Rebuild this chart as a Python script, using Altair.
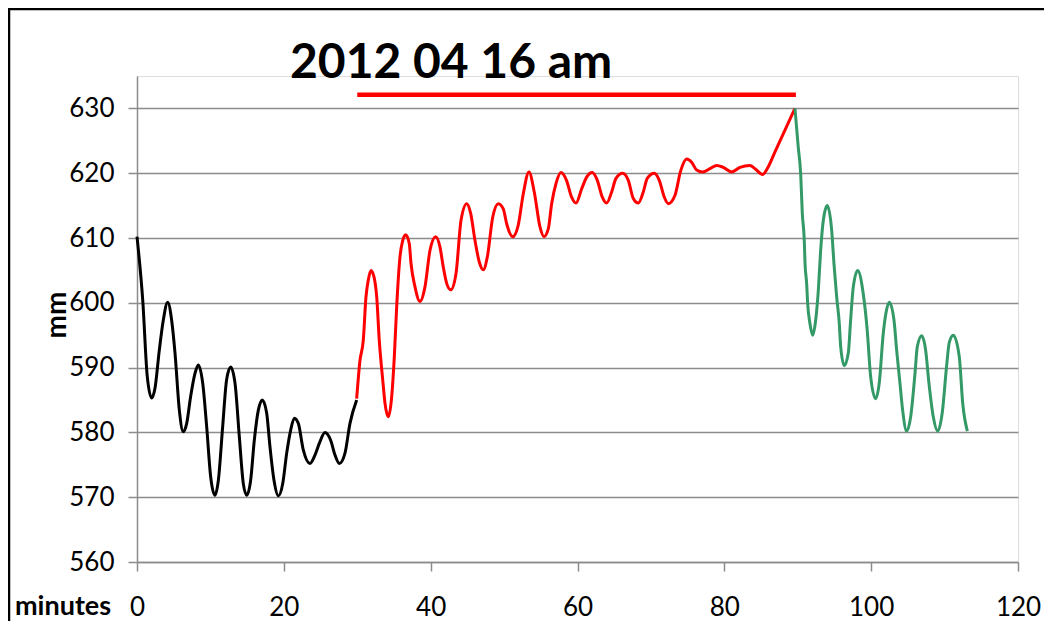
import altair as alt
import pandas as pd

# ---- data ----
black_min = [0, 0.78, 1.4, 2.0, 2.45, 3.04, 3.58, 4.18, 4.72, 5.18, 5.77, 6.3, 6.77, 7.3, 7.9, 8.35,
             8.95, 9.49, 10.03, 10.62, 11.08, 11.67, 12.2, 12.76, 13.35, 13.94, 14.48, 14.94, 15.48,
             15.98, 16.52, 17.07, 17.66, 18.11, 18.66, 19.25, 19.85, 20.39, 20.94, 21.43, 21.97,
             22.65, 23.56, 24.24, 24.83, 25.6, 26.38, 26.97, 27.56, 28.33, 29.01, 29.92]
black_mm = [610.2, 600.4, 588.6, 585.3, 586.8, 592.7, 597.3, 600.1, 597.3, 592.2, 583.4, 580.1,
            581.4, 585.5, 589.1, 590.4, 587.6, 580.9, 573.2, 570.3, 572.6, 580.9, 588.1, 590.1,
            587.6, 579.3, 572.1, 570.3, 572.6, 578.8, 583.4, 585.0, 583.0, 577.8, 572.6, 570.2,
            572.1, 576.8, 580.4, 582.2, 581.4, 577.3, 575.2, 576.5, 578.3, 580.0, 578.8, 576.5,
            575.2, 576.8, 581.4, 585.0]

red_min = [29.92, 30.37, 30.82, 31.19, 31.5, 31.87, 32.28, 32.65, 33.0, 33.47,
           33.78, 34.23, 34.69, 35.05, 35.37, 35.82, 36.19, 36.6, 37.09, 37.32,
           37.86, 38.54, 39.23, 39.91, 40.68, 41.27, 41.72, 42.18, 42.73, 43.45,
           44.13, 44.91, 45.45, 46.04, 46.62, 47.17, 47.72, 48.45, 49.21, 49.89,
           50.35, 51.17, 51.93, 52.61, 53.39, 54.11, 54.89, 55.43, 56.02, 56.48,
           57.07, 57.75, 58.5, 59.2, 59.8, 60.57, 61.25, 62.0, 62.7, 63.38,
           63.97, 64.65, 65.24, 66.15, 66.92, 67.6, 68.28, 68.96, 69.5, 70.46,
           71.14, 71.82, 72.37, 73.28, 74.06, 74.87, 75.55, 76.23, 77.05, 78.04,
           78.96, 79.86, 81.0, 82.13, 83.49, 84.17, 85.22, 85.99, 86.9, 89.62]
red_mm = [585.2, 591.1, 594.2, 600.9, 603.5, 605.0, 604.0, 600.9, 594.2, 588.1,
          584.5, 582.4, 585.5, 591.7, 599.4, 607.1, 609.6, 610.5, 609.1, 606.1,
          602.5, 600.2, 602.5, 608.1, 610.2, 608.6, 605.5, 603.0, 602.0, 604.5,
          612.7, 615.3, 613.8, 609.6, 606.3, 605.1, 607.1, 613.2, 615.3, 614.5,
          612.2, 610.2, 612.0, 616.8, 620.2, 617.1, 611.7, 610.2, 611.4, 615.3,
          618.4, 620.1, 618.9, 616.3, 615.4, 617.6, 619.4, 620.1, 618.9, 616.3,
          615.4, 617.1, 619.2, 620.0, 618.9, 616.1, 615.4, 617.1, 619.2, 620.0,
          618.9, 616.3, 615.3, 616.6, 620.4, 622.2, 621.7, 620.5, 620.2, 620.7,
          621.2, 620.9, 620.2, 620.9, 621.2, 620.7, 619.8, 621.0, 623.3, 630.0]

green_min = [89.62, 90.07, 90.4, 90.62, 90.89, 90.99, 91.21, 91.35, 91.66, 92.03,
             92.44, 92.8, 93.12, 93.48, 94.02, 94.62, 94.93, 95.3, 95.66, 95.85,
             96.34, 96.88, 97.2, 97.56, 98.16, 98.92, 99.46, 99.93, 100.61, 101.1,
             101.65, 102.01, 102.47, 103.11, 103.47, 103.92, 104.29, 104.83, 105.38, 105.97,
             106.28, 106.88, 107.42, 107.87, 108.46, 109.06, 109.69, 110.28, 110.64, 111.19,
             112.0, 112.47, 113.1]
green_mm = [630.0, 624.0, 619.9, 613.8, 609.6, 606.1, 603.0, 599.9, 596.8, 595.0,
            597.3, 601.9, 608.1, 612.7, 615.0, 611.2, 606.1, 600.9, 596.8, 593.2,
            590.3, 592.2, 597.3, 602.4, 605.0, 601.4, 595.8, 588.6, 585.2, 587.6,
            595.3, 598.4, 600.1, 597.3, 592.7, 587.6, 583.4, 580.2, 582.4, 589.1,
            593.2, 594.9, 592.7, 587.6, 582.4, 580.2, 583.1, 590.3, 593.9, 595.0,
            591.7, 584.5, 580.2]

bar_start = [30.0]
bar_end = [89.75]
bar_level = [632.1]

x_ticks = [0, 20, 40, 60, 80, 100, 120]
y_ticks = [560, 570, 580, 590, 600, 610, 620, 630]

title_text = "2012 04 16 am"
x_title = "minutes"
y_title = "mm"

FONT = "Lato"
GRID = "#8c8c8c"

xs = alt.Scale(domain=[0, 120], nice=False, zero=False)
ys = alt.Scale(domain=[560, 635], nice=False, zero=False)

x_axis = alt.Axis(values=x_ticks, title=None, grid=False, domainColor=GRID, domainWidth=1.5,
                  tickColor=GRID, tickWidth=1.5, tickSize=9, labelFont=FONT, labelFontSize=26,
                  labelColor="black", labelPadding=44, labelBaseline="alphabetic", labelFlush=False)
y_axis = alt.Axis(values=y_ticks, title=None, grid=True, gridColor=GRID, gridWidth=1.5,
                  domainColor=GRID, domainWidth=1.5, tickColor=GRID, tickWidth=1.5, tickSize=9,
                  labelFont=FONT, labelFontSize=26, labelColor="black", labelPadding=14,
                  labelBaseline="middle", labelFlush=False)


def series(mins, mms, color):
    df = pd.DataFrame({"minutes": mins, "mm": mms})
    return alt.Chart(df).mark_line(color=color, strokeWidth=3, interpolate="monotone").encode(
        x=alt.X("minutes:Q", scale=xs, axis=x_axis),
        y=alt.Y("mm:Q", scale=ys, axis=y_axis),
    )


black = series(black_min, black_mm, "black")
red = series(red_min, red_mm, "#ff0000")
green = series(green_min, green_mm, "#339966")

bar_df = pd.DataFrame({"start": bar_start, "end": bar_end, "level": bar_level})
bar = alt.Chart(bar_df).mark_rule(color="#ff0000", strokeWidth=4.5).encode(
    x=alt.X("start:Q", scale=xs), x2="end:Q", y=alt.Y("level:Q", scale=ys)
)

txt_df = pd.DataFrame({"t": [title_text]})
title = alt.Chart(txt_df).mark_text(
    font=FONT, fontSize=48, fontWeight="bold", align="left", baseline="alphabetic", color="black"
).encode(text="t:N", x=alt.value(153), y=alt.value(1.5))

xt_df = pd.DataFrame({"t": [x_title]})
xtitle = alt.Chart(xt_df).mark_text(
    font=FONT, fontSize=27, fontWeight="bold", align="left", baseline="alphabetic", color="black"
).encode(text="t:N", x=alt.value(-122), y=alt.value(539))

yt_df = pd.DataFrame({"t": [y_title]})
ytitle = alt.Chart(yt_df).mark_text(
    font=FONT, fontSize=28, fontWeight="bold", align="center", baseline="middle", angle=270,
    color="black"
).encode(text="t:N", x=alt.value(-79), y=alt.value(239))

frame = alt.Chart(txt_df).mark_rect(fill="transparent", stroke="black", strokeWidth=2.5).encode(
    x=alt.value(-128), x2=alt.value(1100), y=alt.value(-67), y2=alt.value(800)
)

chart = alt.layer(black, red, green, bar, title, xtitle, ytitle, frame).properties(
    width=881,
    height=486,
    autosize=alt.AutoSizeParams(type="none"),
    padding={"left": 129, "top": 68, "right": 26, "bottom": 59},
).configure_view(stroke=None).configure(background="white")

chart.save("out.html", embed_options={"renderer": "svg", "actions": False})
